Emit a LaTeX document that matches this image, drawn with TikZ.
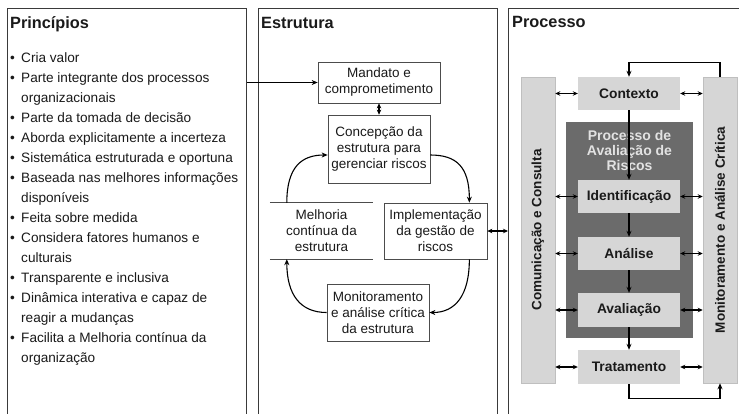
\documentclass[tikz,border=0pt]{standalone}
\usepackage{fontspec}
\setmainfont{Liberation Sans}
\usetikzlibrary{arrows.meta,calc}
\definecolor{frm}{HTML}{3A3A3A}
\definecolor{boxg}{HTML}{D6D6D6}
\definecolor{darkg}{HTML}{6B6B6B}
\definecolor{ltxt}{HTML}{E2E2E2}
\definecolor{txt}{HTML}{1A1A1A}
\begin{document}
\begin{tikzpicture}[x=1pt,y=-1pt,
  panel/.style={draw=frm,line width=1.2pt,fill=white},
  ttl/.style={anchor=base west,inner sep=0,font=\bfseries\fontsize{16.3}{18}\selectfont,text=txt},
  itm/.style={anchor=base west,inner sep=0,font=\fontsize{13.6}{16}\selectfont,text=txt},
  ebox/.style={draw=black!70,line width=0.7pt,fill=white,inner sep=0,align=center,font=\fontsize{13.5}{16}\selectfont,text=txt},
  pbox/.style={fill=boxg,inner sep=0,minimum width=102pt,font=\bfseries\fontsize{13.8}{16}\selectfont,text=txt},
  bar/.style={fill=boxg,draw=black!25,line width=0.5pt,inner sep=0,minimum width=34pt,minimum height=306pt},
  arr/.style={line width=1.1pt,-{Stealth[length=6pt,width=5pt]}},
  darr/.style={line width=1.1pt,{Stealth[length=5pt,width=4.5pt]}-{Stealth[length=5pt,width=4.5pt]}}
]
\useasboundingbox (0,0) rectangle (739,413);
\clip (0,0) rectangle (739,413);
\fill[white] (0,0) rectangle (739,413);

% panels
\node[panel,inner sep=0,minimum width=239pt,minimum height=430pt,anchor=north west] (fpr) at (7,8) {};
\node[panel,inner sep=0,minimum width=239pt,minimum height=430pt,anchor=north west] (fes) at (258,8) {};
\node[panel,inner sep=0,minimum width=250pt,minimum height=430pt,anchor=north west] (fpc) at (508,8) {};

\node[ttl] (tpr) at (10,28) {Princípios};
\node[ttl] (tes) at (261,28) {Estrutura};
\node[ttl] (tpc) at (512,27) {Processo};

% principles list
\foreach \i/\t in {1/Cria valor,2/Parte integrante dos processos,3/organizacionais,4/Parte da tomada de decisão,5/Aborda explicitamente a incerteza,6/Sistemática estruturada e oportuna,7/Baseada nas melhores informações,8/disponíveis,9/Feita sobre medida,10/Considera fatores humanos e,11/culturais,12/Transparente e inclusiva,13/Dinâmica interativa e capaz de,14/reagir a mudanças,15/Facilita a Melhoria contínua da,16/organização}
  \node[itm] (p\i) at (21,{42+20*\i}) {\t};
\foreach \i in {1,2,4,5,6,7,9,10,12,13,15}
  \node[itm] (b\i) at (10,{42+20*\i}) {•};

% Estrutura
\node[ebox,minimum width=122pt,minimum height=41pt] (mand) at (379,82.5) {Mandato e\\comprometimento};
\node[ebox,minimum width=102pt,minimum height=68pt] (conc) at (379,149) {Concepção da\\estrutura para\\gerenciar riscos};
\node[inner sep=0,minimum width=103pt,minimum height=56pt,align=center,font=\fontsize{13.5}{16}\selectfont,text=txt] (mel) at (321.5,231) {Melhoria\\contínua da\\estrutura};
\draw[black!70,line width=0.7pt] (mel.north west) -- (mel.north east) (mel.south west) -- (mel.south east);
\node[ebox,minimum width=103pt,minimum height=56pt] (impl) at (435.5,231) {Implementação\\da gestão de\\riscos};
\node[ebox,minimum width=102pt,minimum height=57pt] (moni) at (378,312.5) {Monitoramento\\e análise crítica\\da estrutura};

\draw[arr] (fpr.east |- mand.west) -- (mand.west);
\draw[darr] (mand.south) -- (conc.north);
\draw[arr] ($(mel.north west)+(17,0)$) .. controls +(0,-36) and +(-26,0) .. ($(conc.west)+(0,6)$);
\draw[arr] ($(conc.east)+(0,6)$) .. controls +(26,0) and +(0,-36) .. ($(impl.north east)+(-18,0)$);
\draw[arr] ($(impl.south east)+(-18,0)$) .. controls +(0,36) and +(26,0) .. (moni.east);
\draw[arr] (moni.west) .. controls +(-26,0) and +(0,36) .. ($(mel.south west)+(17,0)$);
\draw[darr] (impl.east) -- (impl.east -| fpc.west);

% Processo
\node[bar] (cbar) at (538,230) {};
\node[bar] (mbar) at (720,230) {};
\node[rotate=90,inner sep=0,font=\bfseries\fontsize{13.5}{16}\selectfont,text=txt] (ctxt) at (cbar.center) {Comunicação e Consulta};
\node[rotate=90,inner sep=0,font=\bfseries\fontsize{13.5}{16}\selectfont,text=txt] (mtxt) at (mbar.center) {Monitoramento e Análise Crítica};

\node[fill=darkg,inner sep=0,minimum width=127pt,minimum height=216pt] (dark) at (629.5,230) {};
\node[inner sep=0,align=center,font=\bfseries\fontsize{14}{15}\selectfont,text=ltxt] (dtit) at (629.5,150) {Processo de\\Avaliação de\\Riscos};

\node[pbox,minimum height=33pt] (ctx) at (629,93.5) {Contexto};
\node[pbox,minimum height=33pt] (ide) at (629,196.5) {Identificação};
\node[pbox,minimum height=33pt] (ana) at (629,253.5) {Análise};
\node[pbox,minimum height=34pt] (ava) at (629,310) {Avaliação};
\node[pbox,minimum height=34pt] (tra) at (629,367) {Tratamento};

\draw[arr] (ctx.south) -- (ide.north);
\draw[arr] (ide.south) -- (ana.north);
\draw[arr] (ana.south) -- (ava.north);
\draw[arr] (ava.south) -- (tra.north);
\foreach \n in {ctx,ide,ana,ava,tra}{
  \draw[darr] (\n.west -| cbar.east) -- (\n.west);
  \draw[darr] (\n.east) -- (\n.east -| mbar.west);
}
\draw[arr] (mbar.north) -- ++(0,-14) -| (ctx.north);
\draw[arr] (tra.south) -- ++(0,14) -| (mbar.south);
\end{tikzpicture}
\end{document}
